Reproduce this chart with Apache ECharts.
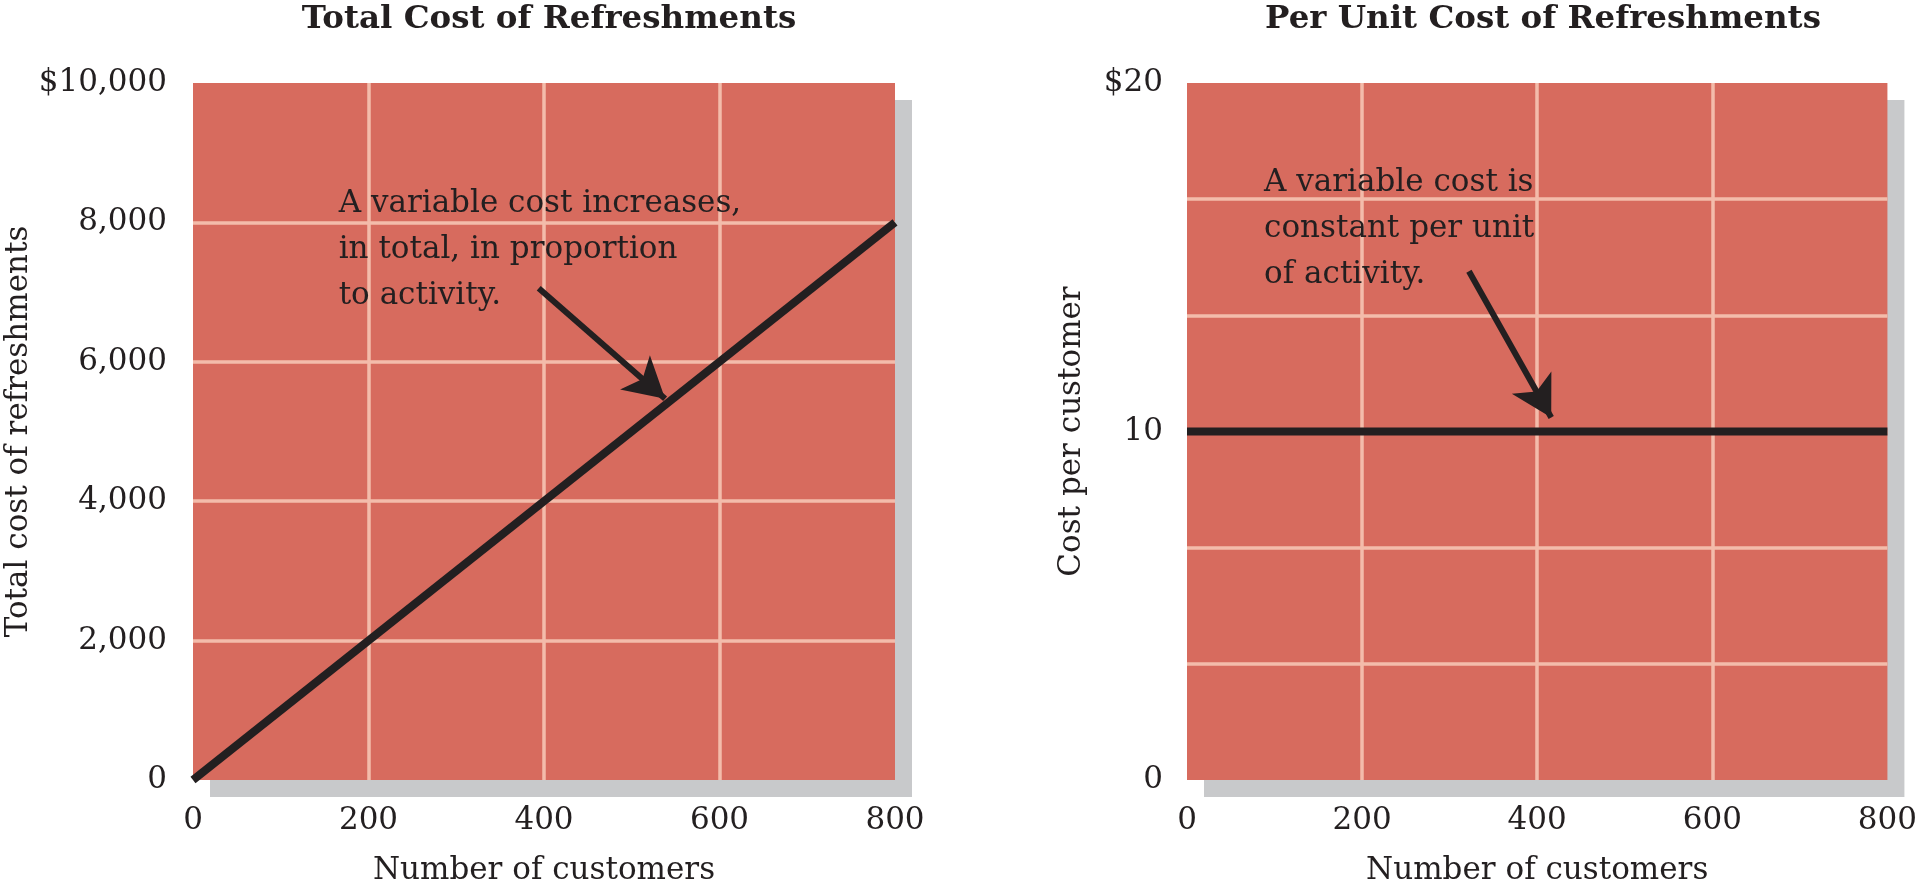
<!DOCTYPE html>
<html>
<head>
<meta charset="utf-8">
<style>
  html, body { margin: 0; padding: 0; background: #ffffff; }
  #chart { width: 1920px; height: 891px; }
</style>
<script src="https://cdn.jsdelivr.net/npm/echarts@6/dist/echarts.min.js"></script>
</head>
<body>
<div id="chart"></div>
<script>
// ---- data ----
const customers = [0, 800];
const totalCost = [0, 8000];
const unitCost = [10, 10];
const xTickLabels = ['0', '200', '400', '600', '800'];
const leftYTickLabels = ['0', '2,000', '4,000', '6,000', '8,000', '$10,000'];
const rightYTickLabels = ['0', '10', '$20'];
const titles = ['Total Cost of Refreshments', 'Per Unit Cost of Refreshments'];
const yNames = ['Total cost of refreshments', 'Cost per customer'];
const xName = 'Number of customers';
const noteLeft = ['A variable cost increases,', 'in total, in proportion', 'to activity.'];
const noteRight = ['A variable cost is', 'constant per unit', 'of activity.'];
// annotation anchors (data coords)
const arrowLeft = [[394, 7055], [538, 5470]];
const arrowRight = [[322, 14.6], [416, 10.4]];
const noteLeftAt = [166, 8592];
const noteRightAt = [88, 17.78];

const FONT = 'DejaVu Serif';
const INK = '#231f20';
const FILL = '#d76b5e';
const GRIDLINE = '#f3bcab';
const SHADOW = '#c8c9cb';

const chart = echarts.init(document.getElementById('chart'));

function xAxis(gridIndex) {
  return {
    gridIndex, type: 'value', min: 0, max: 800, interval: 200,
    name: xName, nameLocation: 'middle', nameGap: 75,
    nameTextStyle: { fontFamily: FONT, fontSize: 31, color: INK },
    axisLine: { show: false }, axisTick: { show: false },
    axisLabel: { margin: 25, fontFamily: FONT, fontSize: 31, color: INK,
      formatter: v => xTickLabels[Math.round(v / 200)] },
    splitLine: { show: true, showMinLine: false, showMaxLine: false,
      lineStyle: { color: GRIDLINE, width: 3.5 } }
  };
}

function arrowMark(pts) {
  return { silent: true, symbol: ['none', 'arrow'], symbolSize: 40,
    label: { show: false }, emphasis: { disabled: true },
    lineStyle: { color: INK, width: 6, type: 'solid', opacity: 1 },
    data: [[{ coord: pts[0] }, { coord: pts[1], symbolSize: [34, 40] }]] };
}

const option = {
  animation: false,
  backgroundColor: '#ffffff',
  title: [
    { text: titles[0], left: 544, top: -2, textAlign: 'center',
      textStyle: { fontFamily: FONT, fontWeight: 'bold', fontSize: 32.5, color: INK } },
    { text: titles[1], left: 1538, top: -2, textAlign: 'center',
      textStyle: { fontFamily: FONT, fontWeight: 'bold', fontSize: 32.5, color: INK } }
  ],
  grid: [
    { left: 193, width: 702, top: 83, height: 703, show: true, backgroundColor: FILL,
      borderWidth: 0, shadowColor: SHADOW, shadowBlur: 0, shadowOffsetX: 17, shadowOffsetY: 17 },
    { left: 1187, width: 702, top: 83, height: 703, show: true, backgroundColor: FILL,
      borderWidth: 0, shadowColor: SHADOW, shadowBlur: 0, shadowOffsetX: 17, shadowOffsetY: 17 }
  ],
  xAxis: [xAxis(0), xAxis(1)],
  yAxis: [
    { gridIndex: 0, type: 'value', min: 0, max: 10000, interval: 2000,
      name: yNames[0], nameLocation: 'middle', nameGap: 158,
      nameTextStyle: { fontFamily: FONT, fontSize: 31, color: INK },
      axisLine: { show: false }, axisTick: { show: false },
      axisLabel: { margin: 26, fontFamily: FONT, fontSize: 31, color: INK,
        formatter: v => leftYTickLabels[Math.round(v / 2000)] },
      splitLine: { show: true, showMinLine: false, showMaxLine: false,
        lineStyle: { color: GRIDLINE, width: 3.5 } } },
    { gridIndex: 1, type: 'value', min: 0, max: 20, interval: 20 / 6,
      name: yNames[1], nameLocation: 'middle', nameGap: 100,
      nameTextStyle: { fontFamily: FONT, fontSize: 31, color: INK },
      axisLine: { show: false }, axisTick: { show: false },
      axisLabel: { margin: 24, fontFamily: FONT, fontSize: 31, color: INK,
        formatter: v => {
          const k = Math.round(v / 10);
          return Math.abs(v - k * 10) < 1e-6 ? rightYTickLabels[k] : '';
        } },
      splitLine: { show: true, showMinLine: false, showMaxLine: false,
        lineStyle: { color: GRIDLINE, width: 3.5 } } }
  ],
  series: [
    { type: 'line', xAxisIndex: 0, yAxisIndex: 0, symbol: 'none', silent: true,
      data: customers.map((c, i) => [c, totalCost[i]]),
      lineStyle: { color: INK, width: 8 },
      markLine: arrowMark(arrowLeft) },
    { type: 'line', xAxisIndex: 1, yAxisIndex: 1, symbol: 'none', silent: true,
      data: customers.map((c, i) => [c, unitCost[i]]),
      lineStyle: { color: INK, width: 8 },
      markLine: arrowMark(arrowRight) }
  ]
};
chart.setOption(option);

const pL = chart.convertToPixel({ gridIndex: 0 }, noteLeftAt);
const pR = chart.convertToPixel({ gridIndex: 1 }, noteRightAt);
function note(lines, p) {
  return { type: 'text', x: p[0], y: p[1], silent: true,
    style: { text: lines.join('\n'), fontFamily: FONT, fontSize: 31, lineHeight: 46,
      fill: INK, textAlign: 'left', textVerticalAlign: 'top' } };
}
chart.setOption({ graphic: [note(noteLeft, pL), note(noteRight, pR)] });
</script>
</body>
</html>
